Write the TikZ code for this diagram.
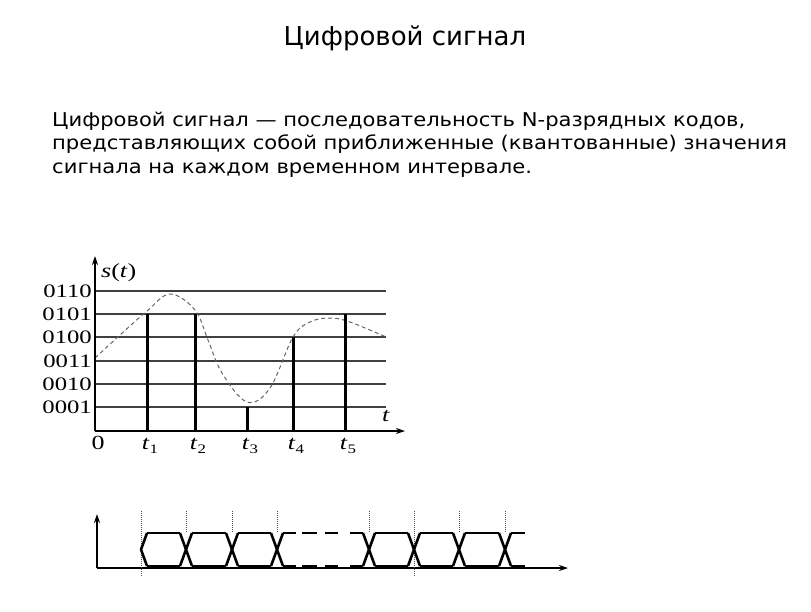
\documentclass[tikz,border=0pt]{standalone}
\usepackage{fontspec}
\setmainfont{DejaVu Sans}
\newfontfamily\deffont[FakeStretch=1.11]{DejaVu Sans}
\newfontfamily\plotfont[FakeStretch=1.3]{Liberation Serif}
\usetikzlibrary{arrows.meta}

\tikzset{
  textline/.style={anchor=base west, inner sep=0pt, font=\deffont\fontsize{19}{23}\selectfont},
  gridline/.style={line width=1.2pt, black!75},
  bar/.style={line width=3pt},
  axis/.style={line width=1.2pt, -{Stealth[length=9pt,width=6pt]}},
  wave/.style={line width=2.6pt},
  tickline/.style={densely dotted, line width=1pt, black!70},
  plotlabel/.style={inner sep=0pt, font=\plotfont\fontsize{19}{19}\selectfont},
}
\newcommand{\tlab}[1]{\textit{t}\raisebox{-0.45ex}{\fontsize{13}{13}\selectfont #1}}

\begin{document}
\begin{tikzpicture}[x=1pt,y=-1pt]
\useasboundingbox (0,0) rectangle (811,611);

%--- Title ---
\node[anchor=base, inner sep=0pt, font=\fontsize{26}{30}\selectfont] (title) at (405,45) {Цифровой сигнал};

%--- Definition ---
\node[textline] (line1) at (52,126) {Цифровой сигнал — последовательность N-разрядных кодов,};
\node[textline] (line2) at (52,149) {представляющих собой приближенные (квантованные) значения};
\node[textline] (line3) at (52,173) {сигнала на каждом временном интервале.};

%--- Quantized signal ---
\coordinate (O) at (95,431);
\coordinate (yend) at (95,256);
\coordinate (xend) at (405,431);

% Code levels
\foreach \code/\y in {0001/407,0010/384,0011/361,0100/337,0101/314,0110/291}{
  \draw[gridline] (95,\y) -- (386,\y);
  \node[plotlabel, anchor=east] (code\code) at (92,\y) {\code};
}

% Analog signal
\draw[black!60, line width=1pt, dash pattern=on 4pt off 3pt] plot[smooth, tension=0.6] coordinates
  {(95,358) (120,335) (147,311) (170,294) (195,310) (208,340) (222,373) (247,402)
   (270,388) (293,337) (310,322) (330,318) (350,322) (386,337)};

% Samples
\foreach \x/\y/\i in {147/314/1,195/314/2,247/407/3,293/337/4,345/314/5}{
  \draw[bar] (\x,431) -- (\x,\y);
  \node[plotlabel, anchor=base, font=\plotfont\fontsize{20}{20}\selectfont] (t\i) at (\x+3,449) {\tlab{\i}};
}

% Axes
\draw[axis] (O) -- (yend);
\draw[axis] (O) -- (xend);
\node[plotlabel, anchor=base, font=\plotfont\fontsize{20}{20}\selectfont] (zero) at (98,449) {0};
\node[plotlabel, anchor=base west, font=\plotfont\fontsize{20}{20}\selectfont] (slabel) at (101,277) {\textit{s}(\textit{t})};
\node[plotlabel, anchor=base, font=\plotfont\fontsize{20}{20}\selectfont] (tlabel) at (386,421) {\textit{t}};

%--- Code sequence ---
\coordinate (P) at (97,568);
\draw[axis] (P) -- (97,514);
\draw[axis] (P) -- (568,568);

% Bit boundaries
\foreach \c in {186,232,277,369,459,505}
  \draw[tickline] (\c,511) -- (\c,533);
\foreach \c in {141,414}
  \draw[tickline] (\c,511) -- (\c,577);

% Transitions
\draw[wave, line join=round] (147,533) -- (141,549.5) -- (147,566);
\foreach \c in {186,232,277,369,414,459,505}{
  \draw[wave] (\c-6,533) -- (\c+6,566);
  \draw[wave] (\c-6,566) -- (\c+6,533);
}

% Rails
\foreach \a/\b in {147/180,192/226,238/271,283/296,302/317,325/338,350/363,375/408,420/453,465/499,511/525}{
  \draw[wave] (\a,533) -- (\b,533);
  \draw[wave] (\a,566) -- (\b,566);
}

\end{tikzpicture}
\end{document}
